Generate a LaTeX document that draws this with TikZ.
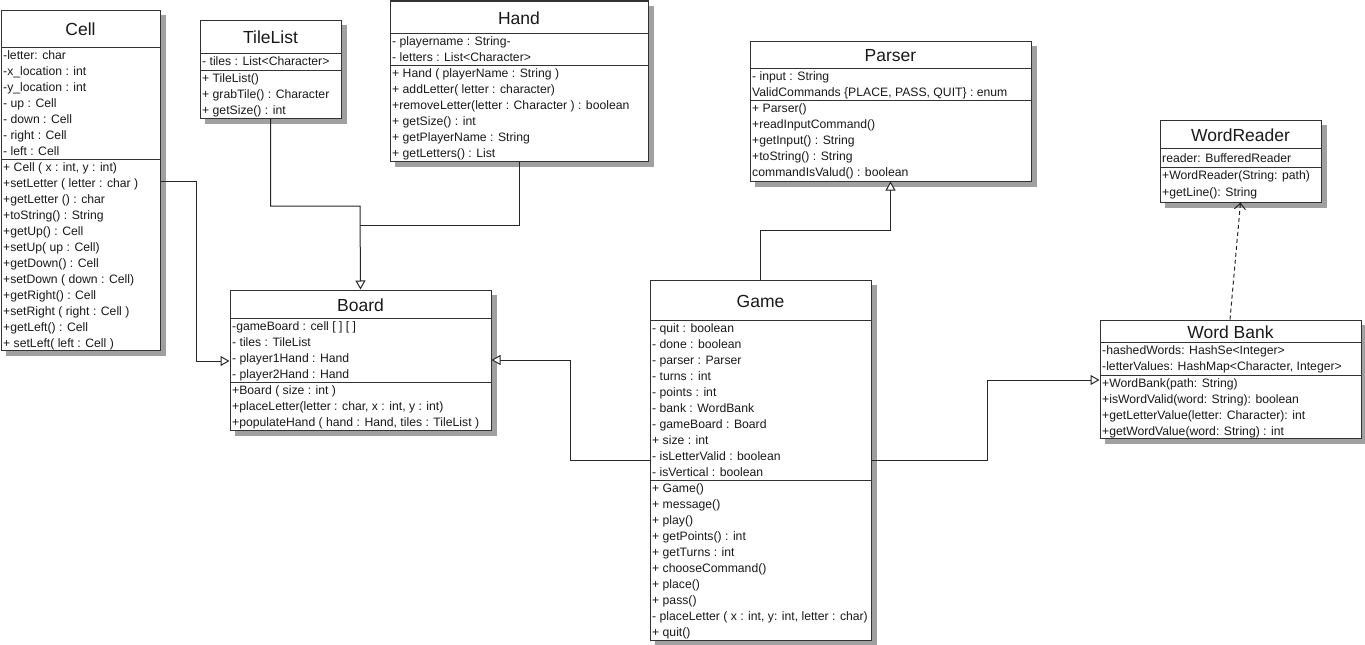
\documentclass[tikz,border=0pt]{standalone}
\usepackage{fontspec}
\setmainfont{Liberation Sans}
\usetikzlibrary{arrows.meta,fit}
\definecolor{shadowgray}{RGB}{160,160,160}
\tikzset{
  classbox/.style={draw=black!80, line width=1pt, fill=white, inner sep=0pt},
  classline/.style={draw=black!80, line width=1pt},
  shadowc/.style={fill=shadowgray},
  titletext/.style={inner sep=0pt, font=\fontsize{17.5}{19}\selectfont, text=black!90},
  rowtext/.style={anchor=west, inner sep=0pt, text height=10pt, text depth=1.4pt, font=\fontsize{12.2}{14}\selectfont, text=black!90},
  conn/.style={draw=black!85, line width=1pt},
  gen/.style={conn, -{Triangle[open, length=9pt, width=10pt, fill=white]}},
  dep/.style={conn, dashed, dash pattern=on 4pt off 3pt, -{Straight Barb[length=6pt, width=11pt]}}
}
% #1 name, #2 x1, #3 y1, #4 x2, #5 y2, #6 title sep, #7 attr sep, #8 title
\newcommand\umlbox[8]{%
  \coordinate (#1-nw) at (#2,#3);
  \coordinate (#1-se) at (#4,#5);
  \node[classbox, fit=(#1-nw)(#1-se)] (#1) {};
  \path[shadowc] ([xshift=0.5pt,yshift=-5pt]#1.north east) rectangle ([xshift=5pt,yshift=-5pt]#1.south east);
  \path[shadowc] ([xshift=5pt,yshift=-0.5pt]#1.south west) rectangle ([xshift=5pt,yshift=-5pt]#1.south east);
  \node[titletext] (#1-title) at ({(#2+#4)/2},{(#3+#6)/2+1}) {#8};
  \draw[classline] (#2,#6) -- (#4,#6);
  \draw[classline] (#2,#7) -- (#4,#7);
}
% #1 prefix, #2 x, #3 ystart, #4 row height, #5 list
\newcommand\umlrows[5]{%
  \foreach \t [count=\i] in {#5}
    \node[rowtext] (#1\i) at (#2+2,{#3+(\i-0.5)*#4}) {\t};
}
\begin{document}
\begin{tikzpicture}[x=1pt,y=-1pt]
\useasboundingbox (0,0) rectangle (1365,645);

% Cell
\umlbox{cell}{1}{10}{160}{350}{47}{159}{Cell}
\umlrows{cella}{1}{47}{16}{{-letter: char},{-x\_location : int},{-y\_location : int},{- up : Cell},{- down : Cell},{- right : Cell},{- left : Cell}}
\umlrows{cellm}{1}{159}{16}{{+ Cell ( x : int, y : int)},{+setLetter ( letter : char )},{+getLetter () : char},{+toString() : String},{+getUp() : Cell},{+setUp( up : Cell)},{+getDown() : Cell},{+setDown ( down : Cell)},{+getRight() : Cell},{+setRight ( right : Cell )},{+getLeft() : Cell},{+ setLeft( left : Cell )}}

% TileList
\umlbox{tilelist}{200}{20}{341}{118}{53}{70}{TileList}
\umlrows{tilea}{200}{53}{16}{{- tiles : List<Character>}}
\umlrows{tilem}{200}{70}{16}{{+ TileList()},{+ grabTile() : Character},{+ getSize() : int}}

% Hand
\umlbox{hand}{390}{1}{648}{161}{33}{65}{Hand}
\umlrows{handa}{390}{33}{16}{{- playername : String-},{- letters : List<Character>}}
\umlrows{handm}{390}{65}{16}{{+ Hand ( playerName : String )},{+ addLetter( letter : character)},{+removeLetter(letter : Character ) : boolean},{+ getSize() : int},{+ getPlayerName : String},{+ getLetters() : List}}

% Parser
\umlbox{parser}{750}{41}{1031}{181}{68}{100}{Parser}
\umlrows{parsera}{750}{68}{16}{{- input : String},{ValidCommands \{PLACE, PASS, QUIT\} : enum}}
\umlrows{parserm}{750}{100}{16}{{+ Parser()},{+readInputCommand()},{+getInput() : String},{+toString() : String},{commandIsValud() : boolean}}

% WordReader
\umlbox{wordreader}{1160}{120}{1321}{202}{148}{167}{WordReader}
\umlrows{wra}{1160}{149.5}{17}{{reader: BufferedReader}}
\umlrows{wrm}{1160}{167}{17}{{+WordReader(String: path)},{+getLine(): String}}

% Board
\umlbox{board}{230}{290}{491}{430}{318}{382}{Board}
\umlrows{boarda}{230}{318}{16}{{-gameBoard : cell [ ] [ ]},{- tiles : TileList},{- player1Hand : Hand},{- player2Hand : Hand}}
\umlrows{boardm}{230}{382}{16}{{+Board ( size : int )},{+placeLetter(letter : char, x : int, y : int)},{+populateHand ( hand : Hand, tiles : TileList )}}

% Game
\umlbox{game}{650}{280}{871}{640}{320}{480}{Game}
\umlrows{gamea}{650}{320}{16}{{- quit : boolean},{- done : boolean},{- parser : Parser},{- turns : int},{- points : int},{- bank : WordBank},{- gameBoard : Board},{+ size : int},{- isLetterValid : boolean},{- isVertical : boolean}}
\umlrows{gamem}{650}{480}{16}{{+ Game()},{+ message()},{+ play()},{+ getPoints() : int},{+ getTurns : int},{+ chooseCommand()},{+ place()},{+ pass()},{- placeLetter ( x : int, y: int, letter : char)},{+ quit()}}

% Word Bank
\umlbox{wordbank}{1100}{320}{1361}{438}{342}{375}{Word Bank}
\umlrows{wba}{1100}{342}{16}{{-hashedWords: HashSe<Integer>},{-letterValues: HashMap<Character, Integer>}}
\umlrows{wbm}{1100}{375}{16}{{+WordBank(path: String)},{+isWordValid(word: String): boolean},{+getLetterValue(letter: Character): int},{+getWordValue(word: String) : int}}

% connectors
\coordinate (b1) at (360,206);
\coordinate (b2) at (360,225);
\draw[gen] (tilelist.south) |- (b1) -- (board.north);
\draw[conn] (hand.south) |- (b2);

\coordinate (c1) at (196,181);
\coordinate (c2) at (196,361);
\draw[gen] (c1 -| cell.east) -- (c1) -- (c2) -- (c2 -| board.west);

\coordinate (g1) at (570,460);
\coordinate (g2) at (570,360);
\draw[gen] (g1 -| game.west) -- (g1) -- (g2) -- (g2 -| board.east);

\coordinate (p1) at (890.5,230);
\draw[gen] (game.north) |- (p1) -- (parser.south);

\coordinate (w1) at (987,460);
\coordinate (w2) at (987,380);
\draw[gen] (w1 -| game.east) -- (w1) -- (w2) -- (w2 -| wordbank.west);

\coordinate (d1) at (1230,0);
\draw[dep] (d1 |- wordbank.north) -- (wordreader.south);
\end{tikzpicture}
\end{document}
